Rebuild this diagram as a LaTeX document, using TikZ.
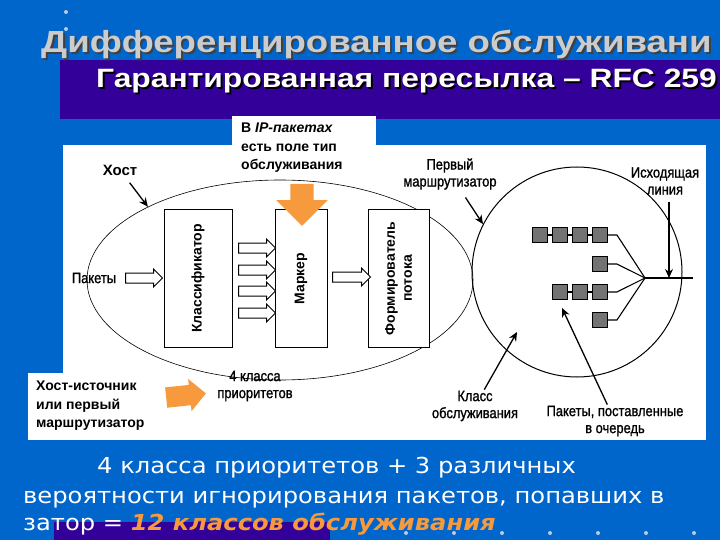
\documentclass[tikz,border=0pt]{standalone}
\usepackage{fontspec}
\setmainfont{Liberation Sans}
\newfontfamily\headfont[FakeStretch=1.2]{Liberation Sans}
\newfontfamily\scanfont[FakeStretch=0.86,FakeBold=1.2]{Liberation Sans}
\newfontfamily\notefont[FakeStretch=1.1]{DejaVu Sans}
\usetikzlibrary{calc,positioning,shapes.arrows,shapes.geometric,arrows.meta}
\definecolor{slideblue}{RGB}{0,102,204}
\definecolor{bandpurple}{RGB}{51,0,153}
\definecolor{markorange}{RGB}{247,153,61}
\definecolor{titlegray}{RGB}{204,204,204}
\definecolor{dotgray}{RGB}{190,200,225}
% text with a dark drop shadow
\newcommand{\shadowed}[2]{\rlap{\hspace{2pt}\raisebox{-2pt}{\color{#1}#2}}#2}

\begin{document}
\begin{tikzpicture}[x=1pt,y=-1pt,
  unit/.style={draw,line width=1pt,fill=white,minimum height=137pt,rotate=90,align=center,
    font=\bfseries\fontsize{14}{17}\selectfont},
  hollow/.style={single arrow,draw,line width=1pt,fill=white,inner xsep=0pt,inner ysep=4.5pt,
    single arrow head extend=4pt,minimum height=37pt},
  bigarrow/.style={single arrow,fill=markorange,inner xsep=0pt},
  qbox/.style={draw,line width=0.9pt,fill=black!55,minimum size=15pt,inner sep=0pt},
  lbl/.style={font=\scanfont\fontsize{15}{17}\selectfont,align=center,inner sep=1pt},
  note/.style={font=\bfseries\fontsize{14}{18.5}\selectfont,align=left,inner sep=0pt},
  ptr/.style={-{Stealth[length=9pt,width=8pt]},line width=1.3pt},
  wire/.style={line width=1.1pt},
  summary/.style={anchor=base west,inner sep=0pt,text=white,font=\notefont\fontsize{22}{22}\selectfont}
]
  % Slide
  \fill[slideblue] (0,0) rectangle (720,540);
  \useasboundingbox (0,0) rectangle (720,540);
  \fill[dotgray] (66,12) circle (2) (66,29) circle (2);
  \fill[bandpurple] (60,60) rectangle (720,119);
  \fill[bandpurple] (54,522) rectangle (330,540);
  \foreach \x in {406,454,...,694}
    \fill[dotgray] (\x,533) circle (2);

  % Titles
  \node[anchor=base west,inner sep=0pt,text=titlegray,font=\headfont\bfseries\fontsize{30.5}{31}\selectfont]
    (title) at (41,53) {\shadowed{black!75}{Дифференцированное обслуживани}};
  \node[anchor=base west,inner sep=0pt,text=white,font=\headfont\bfseries\fontsize{26.5}{26.5}\selectfont]
    (subtitle) at (96,88) {\shadowed{black}{Гарантированная пересылка – RFC 259}};

  % Drawing area
  \fill[white] (63,145) rectangle (706,440);
  \fill[white] (232,116) rectangle (376,146);
  \fill[white] (28,373) rectangle (64,440);

  % Host and router
  \node[ellipse,draw,line width=0.6pt,minimum width=386pt,minimum height=200pt] (hostell) at (280,280) {};
  \node[circle,draw,line width=1pt,minimum size=210pt] (router) at (577,272) {};

  % Units
  \node[unit,minimum height=68pt,minimum width=137pt] (classif) at (198,278.5) {Классификатор};
  \node[unit,minimum height=52pt,minimum width=137pt] (marker) at (301,278.5) {Маркер};
  \node[unit,minimum height=61pt,minimum width=137pt] (shaper) at (398.5,278.5) {Формирователь\\потока};

  % Hollow arrows
  \node[lbl] (pkts) at (94,278) {Пакеты};
  \node[hollow] (in) at (141.5,278) {};
  \foreach \y [count=\i] in {248,270,291,313}
    \node[hollow] (cls\i) at (254.5,\y) {};
  \node[hollow,minimum height=38pt] (toshaper) at (349,277) {};

  % Orange arrows
  \node[bigarrow,rotate=-90,inner ysep=11.5pt,single arrow head extend=14pt,minimum height=42pt]
    (mark) at (302,199) {};
  \node[bigarrow,rotate=6,inner ysep=10pt,single arrow head extend=6pt,minimum height=40pt]
    (src) at (181,396) {};

  % Queues
  \foreach \x [count=\i] in {540,560,580,600}
    \node[qbox] (q1\i) at (\x,235) {};
  \node[qbox] (q21) at (600,264) {};
  \foreach \x [count=\i] in {560,580,600}
    \node[qbox] (q3\i) at (\x,292) {};
  \node[qbox] (q41) at (600,320) {};
  \coordinate (hub) at (645,278);
  \coordinate (out) at (693,278);
  \draw[wire] (q11) -- (q12) -- (q13) -- (q14);
  \draw[wire] (q31) -- (q32) -- (q33);
  \foreach \q in {q14,q21,q33,q41}
    \draw[wire] (\q.east) -- ++(9,0) -- (hub);
  \draw[wire] (hub) -- (out);

  % Labels
  \node[font=\bfseries\fontsize{15}{17}\selectfont] (host) at (120,170) {Хост};
  \node[lbl] (first) at (450,174) {Первый\\маршрутизатор};
  \node[lbl] (outl) at (665,181) {Исходящая\\линия};
  \node[lbl] (prio) at (255,386) {4 класса\\приоритетов};
  \node[lbl] (svc) at (475,406) {Класс\\обслуживания};
  \node[lbl] (queued) at (615,421) {Пакеты, поставленные\\в очередь};
  \coordinate (tap) at ($(hub)!0.5!(out)$);
  \coordinate (svcp) at (517,332);
  \coordinate (qp) at (562,308);
  \draw[ptr,shorten <=5pt] (host) -- (hostell.151);
  \draw[ptr,shorten <=8pt] (first) -- (router.153);
  \draw[ptr,shorten <=6pt] (outl.south -| tap) -- (tap);
  \draw[ptr] (svc) -- (svcp);
  \draw[ptr] (queued) -- (qp);

  % Notes
  \node[note,anchor=north west] (ipnote) at (241,123) {В \textit{IP-пакетах}\\есть поле тип\\обслуживания};
  \node[note,anchor=north west] (srcnote) at (36,381) {Хост-источник\\или первый\\маршрутизатор};

  % Summary
  \node[summary] (sum1) at (97,473) {4 класса приоритетов + 3 различных};
  \node[summary] (sum2) at (23,503) {вероятности игнорирования пакетов, попавших в};
  \node[summary] (sum3) at (23,530) {затор = {\color{markorange}\bfseries\itshape 12 классов обслуживания}};
\end{tikzpicture}
\end{document}
